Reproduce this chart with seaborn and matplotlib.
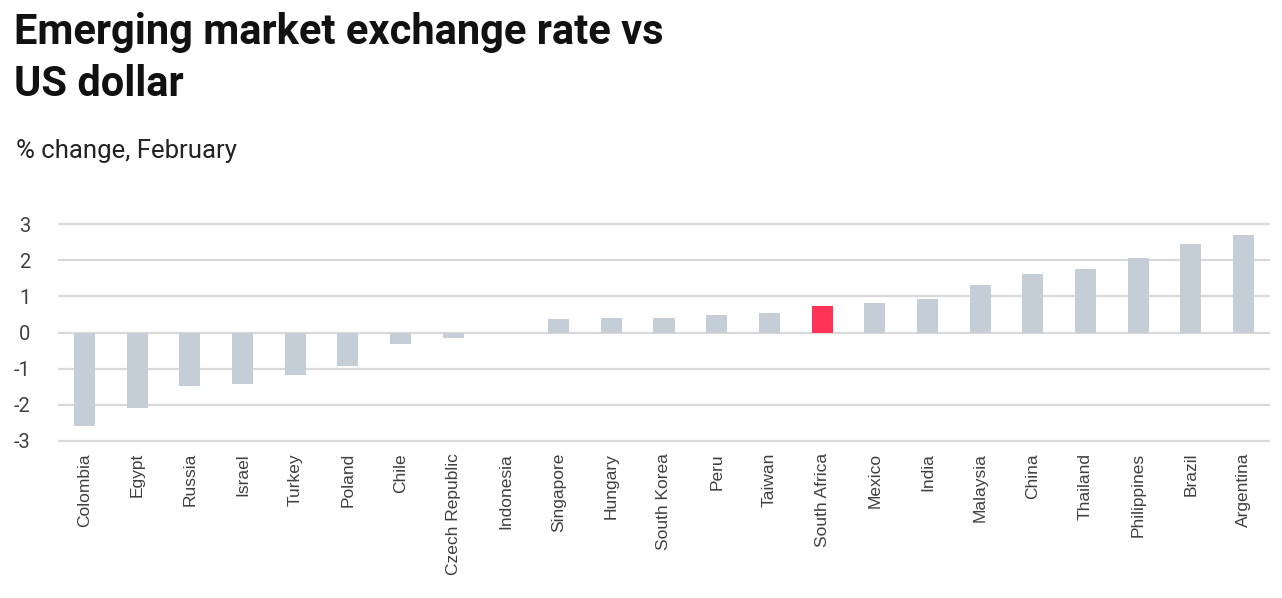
import matplotlib
matplotlib.use("Agg")
import matplotlib.pyplot as plt
import seaborn as sns
import pandas as pd

# values
countries = ["Colombia", "Egypt", "Russia", "Israel", "Turkey", "Poland", "Chile",
             "Czech Republic", "Indonesia", "Singapore", "Hungary", "South Korea",
             "Peru", "Taiwan", "South Africa", "Mexico", "India", "Malaysia",
             "China", "Thailand", "Philippines", "Brazil", "Argentina"]
changes = [-2.58, -2.10, -1.48, -1.43, -1.18, -0.94, -0.31, -0.16, 0.0, 0.37,
           0.39, 0.40, 0.48, 0.53, 0.73, 0.81, 0.93, 1.32, 1.62, 1.75, 2.05,
           2.46, 2.71]
highlight = "South Africa"
yticks = [-3, -2, -1, 0, 1, 2, 3]

grey = "#C5CDD6"
red = "#FF3355"

df = pd.DataFrame({"country": countries, "change": changes})
palette = {c: (red if c == highlight else grey) for c in countries}

sns.set_style("white")
plt.rcParams["font.family"] = ["Liberation Sans", "DejaVu Sans"]

fig = plt.figure(figsize=(12.82, 5.98), dpi=100)
ax = fig.add_axes([58 / 1282, 1 - 444.6 / 598, (1270 - 58) / 1282, (444.6 - 220.4) / 598])

sns.barplot(data=df, x="country", y="change", hue="country", palette=palette,
            legend=False, width=0.4, saturation=1, linewidth=0, ax=ax, zorder=3)

ax.set_ylim(-3.1, 3.1)
ax.set_xlim(-0.5, len(countries) - 0.5)
ax.set_yticks(yticks)
ax.set_yticklabels([str(t) for t in yticks])
ax.grid(axis="y", color="#D9D9D9", linewidth=1.6, zorder=0)
ax.grid(axis="x", visible=False)
for s in ax.spines.values():
    s.set_visible(False)
ax.set_xlabel("")
ax.set_ylabel("")
ax.tick_params(axis="y", length=0, pad=20, labelsize=14.5, labelcolor="#404040")
ax.tick_params(axis="x", length=0, pad=6, labelsize=12.5, labelcolor="#404040",
               labelrotation=90)
for lbl in ax.get_yticklabels():
    lbl.set_fontfamily(["Roboto", "DejaVu Sans"])

fig.text(14 / 1282, 1 - 12 / 598, "Emerging market exchange rate vs\nUS dollar",
         fontsize=30, fontweight="bold", family=["Roboto", "DejaVu Sans"],
         va="top", ha="left", linespacing=1.35, color="#111111")
fig.text(16 / 1282, 1 - 151 / 598, "% change, February", fontsize=18.5,
         family=["Roboto", "DejaVu Sans"], va="center", ha="left", color="#222222")

fig.savefig("out.png", dpi=100)
